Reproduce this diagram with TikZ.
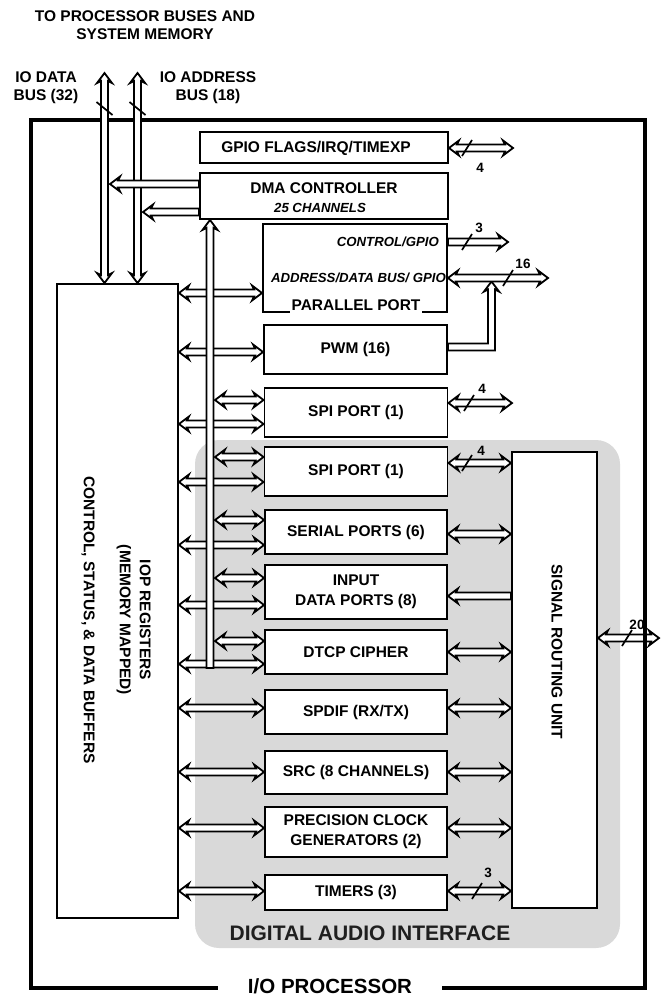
\documentclass[tikz,border=0pt]{standalone}
\usepackage{fontspec}
\setmainfont{Liberation Sans}
\usetikzlibrary{calc}
\definecolor{daigray}{RGB}{217,217,217}
\newcommand\fBox{\bfseries\fontsize{15.5}{20}\selectfont}
\newcommand\fItal{\bfseries\itshape\fontsize{13.2}{16}\selectfont}
\newcommand\fNum{\bfseries\fontsize{13.5}{16}\selectfont}
\newcommand\fDai{\bfseries\fontsize{21}{24}\selectfont}
\newcommand\fIop{\bfseries\fontsize{20.5}{24}\selectfont}
\newcommand\fTtl{\bfseries\fontsize{15.5}{18}\selectfont}
% horizontal double-headed hollow arrow, y taken from first point
\newcommand\myHdbl[2]{\path[hollow] let \p1=#1, \p2=#2 in
 (\x1,\y1) -- (\x1+10pt,\y1+7.5pt) -- (\x1+8pt,\y1+3.5pt) -- (\x2-8pt,\y1+3.5pt) -- (\x2-10pt,\y1+7.5pt) -- (\x2,\y1)
 -- (\x2-10pt,\y1-7.5pt) -- (\x2-8pt,\y1-3.5pt) -- (\x1+8pt,\y1-3.5pt) -- (\x1+10pt,\y1-7.5pt) -- cycle;}
% head at right
\newcommand\myHright[2]{\path[hollow] let \p1=#1, \p2=#2 in
 (\x1,\y1+3.5pt) -- (\x2-8pt,\y1+3.5pt) -- (\x2-10pt,\y1+7.5pt) -- (\x2,\y1)
 -- (\x2-10pt,\y1-7.5pt) -- (\x2-8pt,\y1-3.5pt) -- (\x1,\y1-3.5pt) -- cycle;}
% head at left
\newcommand\myHleft[2]{\path[hollow] let \p1=#1, \p2=#2 in
 (\x1,\y1) -- (\x1+10pt,\y1+7.5pt) -- (\x1+8pt,\y1+3.5pt) -- (\x2,\y1+3.5pt)
 -- (\x2,\y1-3.5pt) -- (\x1+8pt,\y1-3.5pt) -- (\x1+10pt,\y1-7.5pt) -- cycle;}
% vertical double-headed, first point = top
\newcommand\myVdbl[2]{\path[hollow] let \p1=#1, \p2=#2 in
 (\x1,\y1) -- (\x1+7.5pt,\y1-10pt) -- (\x1+3.5pt,\y1-8pt) -- (\x1+3.5pt,\y2+8pt) -- (\x1+7.5pt,\y2+10pt) -- (\x1,\y2)
 -- (\x1-7.5pt,\y2+10pt) -- (\x1-3.5pt,\y2+8pt) -- (\x1-3.5pt,\y1-8pt) -- (\x1-7.5pt,\y1-10pt) -- cycle;}
% vertical, head at top only
\newcommand\myVup[2]{\path[hollow] let \p1=#1, \p2=#2 in
 (\x1,\y1) -- (\x1+7.5pt,\y1-10pt) -- (\x1+3.5pt,\y1-8pt) -- (\x1+3.5pt,\y2)
 -- (\x1-3.5pt,\y2) -- (\x1-3.5pt,\y1-8pt) -- (\x1-7.5pt,\y1-10pt) -- cycle;}
\newcommand\mySlash[1]{\draw[slash] ($#1+(-5,8)$) -- ($#1+(5,-8)$);}
\begin{document}
\begin{tikzpicture}[x=1pt,y=-1pt,
  hollow/.style={draw=black, fill=white, line width=1.8pt, line join=miter},
  box/.style={draw=black, fill=white, line width=1.9pt, inner sep=0pt, align=center, font=\fBox},
  lbl/.style={inner sep=0pt, align=center, font=\fTtl},
  ital/.style={inner sep=0pt, font=\fItal},
  num/.style={inner sep=0pt, font=\fNum},
  slash/.style={line width=1.7pt}]
\useasboundingbox (0,0) rectangle (669,996);

% digital audio interface region
\fill[daigray, rounded corners=24pt] (195,440) rectangle (620,948);
\node[font=\fDai, text=black!88, inner sep=0pt] (dai) at (370,933) {DIGITAL AUDIO INTERFACE};

% titles
\node[lbl] (title) at (145,25) {TO PROCESSOR BUSES AND\\SYSTEM MEMORY};
\node[lbl] (datalbl) at (46,88) {IO DATA\\BUS (32)};
\node[lbl] (addrlbl) at (208,88) {IO ADDRESS\\BUS (18)};

% signal routing unit and its outer link (behind the frame)
\node[box, minimum width=85, minimum height=456] (sru) at (554.5,680) {};
\node[font=\fBox, inner sep=0pt, rotate=-90] (srutxt) at (557,652) {SIGNAL ROUTING UNIT};
\coordinate (y20) at (0,638);
\coordinate (sruout) at (659,638);
\myHdbl{(sru.east |- y20)}{(sruout)}
\mySlash{(627,638)}
\node[num] (n20) at (637,625) {20};

% I/O processor frame
\node[font=\fIop, inner xsep=30pt, inner ysep=0pt] (iopname) at (330,986) {I/O PROCESSOR};
\draw[line width=4.8pt, line join=miter] (iopname.west |- 0,988) -- (31,988) -- (31,120) -- (645,120) -- (645,988) -- (iopname.east |- 0,988);

% IOP registers
\node[box, minimum width=121, minimum height=634] (iop) at (117.5,601) {};
\node[font=\fBox, inner sep=0pt, rotate=-90, align=center] (ioptxt) at (116,620)
  {IOP REGISTERS\\(MEMORY MAPPED)\\[16pt]CONTROL, STATUS, \& DATA BUFFERS};

% IO buses
\coordinate (dtop) at (104.5,73);
\coordinate (atop) at (137.5,73);
\myVdbl{(dtop)}{(dtop |- iop.north)}
\myVdbl{(atop)}{(atop |- iop.north)}
\draw[slash] ($(dtop)+(-8,29)$) -- ($(dtop)+(8,42)$);
\draw[slash] ($(atop)+(-8,29)$) -- ($(atop)+(8,42)$);

% module boxes
\node[box, minimum width=248, minimum height=31] (gpio) at (324,147.5) {};
\node[font=\fBox, inner sep=0pt] (gpiotxt) at (316,148) {GPIO FLAGS/IRQ/TIMEXP};
\node[box, minimum width=248, minimum height=46] (dma) at (324,196) {};
\node[font=\fBox, inner sep=0pt] (dmat1) at (324,188) {DMA CONTROLLER};
\node[ital] (dmat2) at (320,208) {25 CHANNELS};
\node[box, minimum width=184, minimum height=88] (pp) at (355,268) {};
\node[ital, anchor=east] (ppctl) at (439,242) {CONTROL/GPIO};
\node[ital, anchor=east] (ppadr) at (446,278) {ADDRESS/DATA BUS/ GPIO};
\node[font=\fBox, fill=white, inner xsep=2pt, inner ysep=3pt, anchor=base] (pptxt) at (356,310.5) {PARALLEL PORT};
\node[box, minimum width=183, minimum height=49] (pwm) at (355.5,349.5) {PWM (16)};
\node[box, minimum width=183, minimum height=49] (spi1) at (356,412.5) {SPI PORT (1)};
\node[box, minimum width=183, minimum height=49] (spi2) at (356,471.5) {SPI PORT (1)};
\node[box, minimum width=182, minimum height=44] (serial) at (356,532) {SERIAL PORTS (6)};
\node[box, minimum width=182, minimum height=54] (input) at (356,592) {INPUT\\DATA PORTS (8)};
\node[box, minimum width=182, minimum height=44] (dtcp) at (356,652) {DTCP CIPHER};
\node[box, minimum width=182, minimum height=44] (spdif) at (356,712) {SPDIF (RX/TX)};
\node[box, minimum width=182, minimum height=43] (src) at (356,772.5) {SRC (8 CHANNELS)};
\node[box, minimum width=182, minimum height=50] (pcg) at (356,832) {PRECISION CLOCK\\GENERATORS (2)};
\node[box, minimum width=182, minimum height=35] (timers) at (356,892.5) {TIMERS (3)};

% row coordinates
\coordinate (ypp) at (0,293);  \coordinate (ypwm) at (0,352);
\coordinate (s1a) at (0,400);  \coordinate (s1b) at (0,424);
\coordinate (s2a) at (0,457);  \coordinate (s2b) at (0,482);
\coordinate (sea) at (0,520);  \coordinate (seb) at (0,545);
\coordinate (ina) at (0,578);  \coordinate (inb) at (0,605);
\coordinate (dta) at (0,641);  \coordinate (dtb) at (0,664);
\coordinate (ysp) at (0,708);  \coordinate (ysr) at (0,772);
\coordinate (ypc) at (0,828);  \coordinate (yti) at (0,891);
\coordinate (bx) at (215,0);

% long arrows from IOP registers
\myHdbl{(iop.east |- ypp)}{(pp.west |- ypp)}
\myHdbl{(iop.east |- ypwm)}{(pwm.west |- ypwm)}
\myHdbl{(iop.east |- s1b)}{(spi1.west |- s1b)}
\myHdbl{(iop.east |- s2b)}{(spi2.west |- s2b)}
\myHdbl{(iop.east |- seb)}{(serial.west |- seb)}
\myHdbl{(iop.east |- inb)}{(input.west |- inb)}
\myHdbl{(iop.east |- dtb)}{(dtcp.west |- dtb)}
\myHdbl{(iop.east |- ysp)}{(spdif.west |- ysp)}
\myHdbl{(iop.east |- ysr)}{(src.west |- ysr)}
\myHdbl{(iop.east |- ypc)}{(pcg.west |- ypc)}
\myHdbl{(iop.east |- yti)}{(timers.west |- yti)}

% DMA bus
\coordinate (dmabot) at (210,668);
\myVup{(dmabot |- dma.south)}{(dmabot)}
\myHdbl{(bx |- s1a)}{(spi1.west |- s1a)}
\myHdbl{(bx |- s2a)}{(spi2.west |- s2a)}
\myHdbl{(bx |- sea)}{(serial.west |- sea)}
\myHdbl{(bx |- ina)}{(input.west |- ina)}
\myHdbl{(bx |- dta)}{(dtcp.west |- dta)}

% DMA to IO buses
\coordinate (dmaL1) at (110,184);
\coordinate (dmaL2) at (143,212);
\myHleft{(dmaL1)}{(dma.west |- dmaL1)}
\myHleft{(dmaL2)}{(dma.west |- dmaL2)}

% right side links
\coordinate (gpioout) at (513,148);
\myHdbl{(gpio.east |- gpioout)}{(gpioout)}
\mySlash{(467,148)}
\node[num] (n4a) at (480,168) {4};

\coordinate (ctlout) at (508,242);
\myHright{(pp.east |- ctlout)}{(ctlout)}
\mySlash{(467,242)}
\node[num] (n3a) at (479,228) {3};

\coordinate (pwmfeed) at (0,347);
\coordinate (pwmup) at (491.5,281.5);
\path[hollow] let \p1=(pwm.east |- pwmfeed), \p2=(pwmup) in
 (\x1,\y1+3.5pt) -- (\x2-3.5pt,\y1+3.5pt) -- (\x2-3.5pt,\y2-8pt) -- (\x2-7.5pt,\y2-10pt) -- (\x2,\y2)
 -- (\x2+7.5pt,\y2-10pt) -- (\x2+3.5pt,\y2-8pt) -- (\x2+3.5pt,\y1-3.5pt) -- (\x1,\y1-3.5pt) -- cycle;

\coordinate (adrout) at (548,278);
\myHdbl{(pp.east |- adrout)}{(adrout)}
\mySlash{(508,278)}
\node[num] (n16) at (523,264) {16};

\coordinate (spi1out) at (512,403);
\myHdbl{(spi1.east |- spi1out)}{(spi1out)}
\mySlash{(469,403)}
\node[num] (n4b) at (482,389) {4};

\coordinate (r2) at (0,463);  \coordinate (r3) at (0,534);
\coordinate (r4) at (0,596);  \coordinate (r5) at (0,652);
\coordinate (r6) at (0,708);  \coordinate (r7) at (0,772);
\coordinate (r8) at (0,828);  \coordinate (r9) at (0,891);
\myHdbl{(spi2.east |- r2)}{(sru.west |- r2)}
\mySlash{(467,463)}
\node[num] (n4c) at (481,451) {4};
\myHdbl{(serial.east |- r3)}{(sru.west |- r3)}
\myHleft{(input.east |- r4)}{(sru.west |- r4)}
\myHdbl{(dtcp.east |- r5)}{(sru.west |- r5)}
\myHdbl{(spdif.east |- r6)}{(sru.west |- r6)}
\myHdbl{(src.east |- r7)}{(sru.west |- r7)}
\myHdbl{(pcg.east |- r8)}{(sru.west |- r8)}
\myHdbl{(timers.east |- r9)}{(sru.west |- r9)}
\mySlash{(477,891)}
\node[num] (n3b) at (488,873) {3};
\end{tikzpicture}
\end{document}
